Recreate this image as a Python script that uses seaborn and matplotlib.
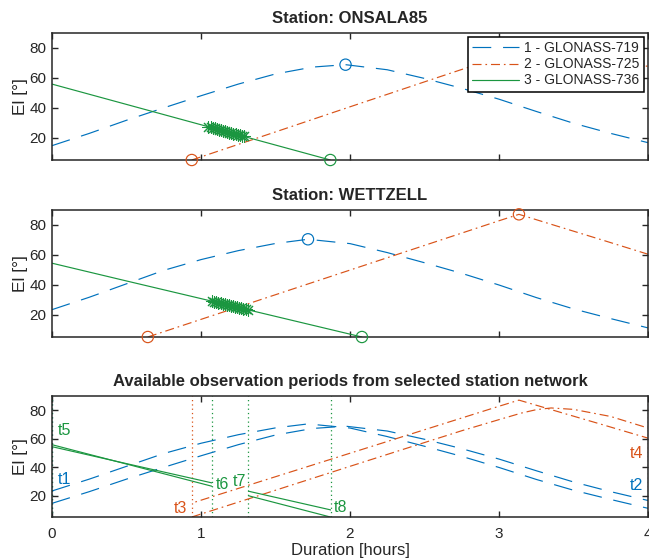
import matplotlib
matplotlib.use("Agg")
import matplotlib.pyplot as plt
from matplotlib.patches import Rectangle
import seaborn as sns

# ---------------------------------------------------------------- data
# elevation tracks, time in hours since session start, elevation in degrees
sat_names = ["1 - GLONASS-719", "2 - GLONASS-725", "3 - GLONASS-736"]
sat_colors = ["#0072BD", "#D95319", "#1B9640"]

# ONSALA85
ons_719_t = [0.0, 0.25, 0.5, 0.75, 1.0, 1.25, 1.5, 1.75, 1.97, 2.25, 2.5, 2.75, 3.0, 3.25, 3.5, 3.75, 4.0]
ons_719_el = [14.6, 22.8, 31.6, 39.9, 48.0, 55.8, 62.6, 67.2, 68.8, 65.4, 59.6, 53.0, 45.7, 37.5, 29.6, 22.8, 16.6]
ons_725_t = [0.938, 1.5, 2.0, 2.5, 2.75, 3.0, 3.15, 3.25, 3.35, 3.5, 3.75, 4.0]
ons_725_el = [5.0, 23.8, 40.6, 57.3, 65.6, 73.4, 78.0, 80.4, 81.6, 80.6, 75.6, 67.5]
ons_736_t = [0.0, 0.5, 1.0, 1.5, 1.868]
ons_736_el = [55.8, 42.2, 28.6, 15.0, 5.0]

# WETTZELL
wtz_719_t = [0.0, 0.25, 0.5, 0.75, 1.0, 1.25, 1.5, 1.718, 2.0, 2.25, 2.5, 2.75, 3.0, 3.25, 3.5, 3.75, 4.0]
wtz_719_el = [23.3, 31.6, 40.6, 49.6, 56.8, 62.8, 67.6, 70.4, 67.5, 61.5, 54.7, 47.6, 39.8, 31.4, 23.8, 17.3, 11.1]
wtz_725_t = [0.643, 1.0, 1.5, 2.0, 2.5, 3.0, 3.134, 3.4, 3.7, 4.0]
wtz_725_el = [5.0, 16.8, 33.3, 49.8, 66.3, 82.8, 87.1, 78.9, 69.7, 60.4]
wtz_736_t = [0.0, 0.5, 1.0, 1.5, 2.08]
wtz_736_el = [54.4, 42.5, 30.7, 18.8, 5.0]

# rise / set / culmination markers (satellite index, time, elevation)
ons_event_sat = [0, 1, 1, 2]
ons_event_t = [1.97, 0.938, 3.35, 1.868]
ons_event_el = [68.8, 5.0, 81.6, 5.0]
wtz_event_sat = [0, 1, 1, 2]
wtz_event_t = [1.718, 0.643, 3.134, 2.08]
wtz_event_el = [70.4, 5.0, 87.1, 5.0]

# epochs flagged as not observable for GLONASS-736
ons_flag_t = [1.05, 1.064, 1.078, 1.092, 1.106, 1.12, 1.134, 1.148, 1.162, 1.176,
              1.19, 1.204, 1.218, 1.232, 1.246, 1.26, 1.274, 1.288]
ons_flag_el = [27.2, 26.9, 26.5, 26.1, 25.7, 25.3, 25.0, 24.6, 24.2, 23.8,
               23.4, 23.1, 22.7, 22.3, 21.9, 21.5, 21.2, 20.8]
wtz_flag_t = [1.075, 1.089, 1.103, 1.117, 1.131, 1.145, 1.159, 1.173, 1.187, 1.201,
              1.215, 1.229, 1.243, 1.257, 1.271, 1.285, 1.299, 1.313]
wtz_flag_el = [28.9, 28.5, 28.2, 27.9, 27.5, 27.2, 26.9, 26.5, 26.2, 25.9,
               25.5, 25.2, 24.9, 24.5, 24.2, 23.9, 23.5, 23.2]

# common observation windows of the network: (satellite, start, end)
win_sat = [0, 1, 2, 2]
win_start = [0.0, 0.939, 0.0, 1.313]
win_end = [4.0, 4.0, 1.077, 1.873]

# window tags: text, satellite, time, elevation, alignment
tag_text = ["t1", "t2", "t3", "t4", "t5", "t6", "t7", "t8"]
tag_sat = [0, 0, 1, 1, 2, 2, 2, 2]
tag_t = [0.04, 3.965, 0.905, 3.965, 0.04, 1.10, 1.300, 1.893]
tag_el = [31.5, 27.0, 11.0, 49.5, 66.0, 27.5, 30.0, 12.0]
tag_ha = ["left", "right", "right", "right", "left", "left", "right", "left"]

x_ticks = [0, 1, 2, 3, 4]
y_ticks = [20, 40, 60, 80]
x_range = (0, 4)
el_range = (5, 90)

# ---------------------------------------------------------------- style
sns.set_style("ticks")
plt.rcParams["font.family"] = ["Liberation Sans", "DejaVu Sans"]
plt.rcParams["lines.scale_dashes"] = False
ink = "#262626"

line_styles = [(0, (13.5, 8.5)), (0, (6.5, 2.8, 1.2, 2.8)), "-"]
dotted = (0, (0.9, 2.2))
lw = 0.85

fig = plt.figure(figsize=(6.49, 5.58), dpi=100)
W, H = 649.0, 558.0


def axes_box(top, bottom, left=52, right=648):
    return [left / W, (H - bottom) / H, (right - left) / W, (bottom - top) / H]


ax1 = fig.add_axes(axes_box(33, 160))
ax2 = fig.add_axes(axes_box(210, 337))
ax3 = fig.add_axes(axes_box(396, 517))

tracks = {
    "ons": [(ons_719_t, ons_719_el), (ons_725_t, ons_725_el), (ons_736_t, ons_736_el)],
    "wtz": [(wtz_719_t, wtz_719_el), (wtz_725_t, wtz_725_el), (wtz_736_t, wtz_736_el)],
}


def draw_station(ax, key, ev_sat, ev_t, ev_el, flag_t, flag_el, with_labels):
    for i, (t, el) in enumerate(tracks[key]):
        sns.lineplot(x=t, y=el, ax=ax, color=sat_colors[i], linewidth=lw,
                     linestyle=line_styles[i], estimator=None, sort=False,
                     label=sat_names[i] if with_labels else None, legend=False)
    for s, t, el in zip(ev_sat, ev_t, ev_el):
        sns.scatterplot(x=[t], y=[el], ax=ax, marker="o", s=66,
                        facecolor="none", edgecolor=sat_colors[s],
                        linewidth=0.85, zorder=4, clip_on=False, legend=False)
    sns.scatterplot(x=flag_t, y=flag_el, ax=ax, marker=(8, 2, 0), s=75,
                    color=sat_colors[2], linewidth=0.75, zorder=3, legend=False)


draw_station(ax1, "ons", ons_event_sat, ons_event_t, ons_event_el,
             ons_flag_t, ons_flag_el, True)
draw_station(ax2, "wtz", wtz_event_sat, wtz_event_t, wtz_event_el,
             wtz_flag_t, wtz_flag_el, False)

# network panel: both stations' tracks, restricted to the common windows
for s, t0, t1 in zip(win_sat, win_start, win_end):
    for key in ("ons", "wtz"):
        t, el = tracks[key][s]
        sns.lineplot(x=t, y=el, ax=ax3, color=sat_colors[s], linewidth=lw,
                     linestyle=line_styles[s], estimator=None, sort=False,
                     legend=False)
        line = ax3.lines[-1]
        clip = Rectangle((t0, el_range[0]), t1 - t0, el_range[1] - el_range[0],
                         transform=ax3.transData, fill=False, visible=False)
        ax3.add_patch(clip)
        line.set_clip_path(clip)
    for tb in (t0, t1):
        ax3.axvline(tb, color=sat_colors[s], linewidth=0.9, linestyle=dotted,
                    zorder=1.5 + s * 0.1)

for txt, s, t, el, ha in zip(tag_text, tag_sat, tag_t, tag_el, tag_ha):
    ax3.text(t, el, txt, color=sat_colors[s], fontsize=11.5, ha=ha, va="center")

titles = ["Station: ONSALA85", "Station: WETTZELL",
          "Available observation periods from selected station network"]
for ax, title in zip((ax1, ax2, ax3), titles):
    ax.set_xlim(*x_range)
    ax.set_ylim(*el_range)
    ax.set_xticks(x_ticks)
    ax.set_yticks(y_ticks)
    ax.set_title(title, fontsize=12, fontweight="bold", color=ink, pad=7)
    ax.set_ylabel("El [°]", fontsize=12.5, color=ink, labelpad=1)
    ax.set_xlabel("")
    ax.tick_params(direction="in", length=4, width=1.0, top=True, right=True,
                   labelsize=11, colors=ink, pad=4)
    for sp in ax.spines.values():
        sp.set_visible(True)
        sp.set_linewidth(1.1)
        sp.set_color(ink)

ax1.tick_params(labelbottom=False)
ax2.tick_params(labelbottom=False)
ax3.tick_params(axis="x", pad=7)
ax3.set_xlabel("Duration [hours]", fontsize=12, color=ink, labelpad=2)

leg = ax1.legend(loc="upper right", fontsize=10, handlelength=3.4,
                 handletextpad=0.35, borderpad=0.3, labelspacing=0.15,
                 borderaxespad=0.3, frameon=True, fancybox=False, framealpha=1)
leg.get_frame().set_edgecolor("black")
leg.get_frame().set_linewidth(1.1)
leg.set_zorder(10)

fig.savefig("out.png", dpi=100)
